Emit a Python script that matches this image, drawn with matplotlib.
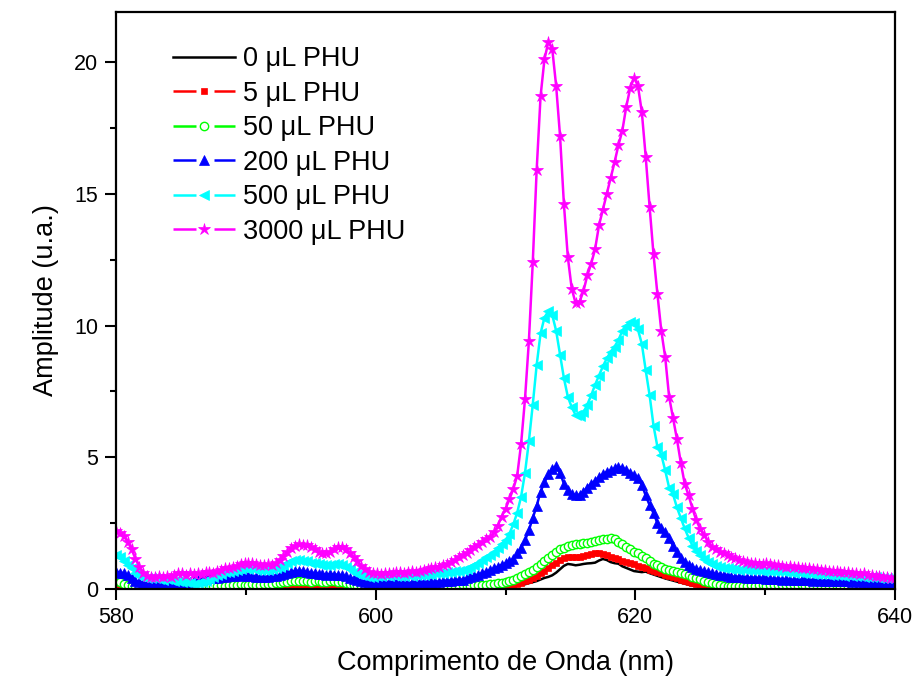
import numpy as np
import matplotlib
matplotlib.use("Agg")
import matplotlib.pyplot as plt
from matplotlib.lines import Line2D
from matplotlib.ticker import MultipleLocator

plt.rcParams['font.family'] = ['Liberation Sans', 'DejaVu Sans']

# Emission spectra sampled every 0.3 nm from 580 nm to 640 nm
wavelength_start = 580.0
wavelength_step = 0.3

labels = ["0 μL PHU", "5 μL PHU", "50 μL PHU",
          "200 μL PHU", "500 μL PHU", "3000 μL PHU"]

pl_0 = [
    0.05, 0.04, 0.03, 0.02, 0.02, 0.01, 0.02, 0.01, 0.02, 0.01,
    0.02, 0.01, 0.02, 0.01, 0.02, 0.03, 0.02, 0.01, 0.02, 0.02,
    0.03, 0.02, 0.03, 0.02, 0.03, 0.04, 0.03, 0.02, 0.03, 0.04,
    0.03, 0.04, 0.03, 0.04, 0.05, 0.04, 0.03, 0.04, 0.03, 0.04,
    0.04, 0.05, 0.04, 0.05, 0.06, 0.05, 0.06, 0.07, 0.06, 0.05,
    0.06, 0.07, 0.06, 0.05, 0.06, 0.05, 0.06, 0.05, 0.04, 0.05,
    0.04, 0.03, 0.04, 0.03, 0.02, 0.03, 0.02, 0.03, 0.02, 0.03,
    0.02, 0.03, 0.02, 0.03, 0.02, 0.03, 0.04, 0.03, 0.04, 0.03,
    0.04, 0.03, 0.04, 0.05, 0.04, 0.05, 0.04, 0.05, 0.06, 0.05,
    0.05, 0.06, 0.05, 0.06, 0.07, 0.06, 0.07, 0.08, 0.07, 0.08,
    0.06, 0.08, 0.10, 0.12, 0.15, 0.18, 0.22, 0.26, 0.30, 0.36,
    0.42, 0.46, 0.52, 0.62, 0.75, 0.88, 0.95, 0.93, 0.90, 0.92,
    0.95, 0.97, 0.98, 1.00, 1.08, 1.14, 1.10, 1.02, 0.98, 0.96,
    0.86, 0.80, 0.74, 0.68, 0.66, 0.64, 0.66, 0.60, 0.55, 0.50,
    0.45, 0.40, 0.36, 0.32, 0.28, 0.24, 0.20, 0.16, 0.13, 0.11,
    0.09, 0.08, 0.07, 0.06, 0.05, 0.05, 0.04, 0.05, 0.04, 0.03,
    0.04, 0.03, 0.04, 0.03, 0.04, 0.03, 0.02, 0.03, 0.04, 0.03,
    0.03, 0.04, 0.03, 0.02, 0.03, 0.04, 0.03, 0.04, 0.03, 0.02,
    0.03, 0.02, 0.03, 0.04, 0.03, 0.02, 0.03, 0.04, 0.03, 0.04,
    0.03, 0.04, 0.05, 0.04, 0.03, 0.04, 0.05, 0.04, 0.05, 0.04,
    0.04]

pl_5 = [
    0.10, 0.08, 0.06, 0.05, 0.04, 0.03, 0.04, 0.03, 0.02, 0.03,
    0.02, 0.03, 0.02, 0.03, 0.02, 0.03, 0.04, 0.03, 0.02, 0.03,
    0.03, 0.04, 0.03, 0.04, 0.05, 0.04, 0.05, 0.04, 0.05, 0.06,
    0.05, 0.06, 0.05, 0.06, 0.05, 0.06, 0.07, 0.06, 0.05, 0.06,
    0.06, 0.07, 0.06, 0.07, 0.08, 0.07, 0.08, 0.09, 0.08, 0.10,
    0.09, 0.10, 0.12, 0.10, 0.09, 0.08, 0.09, 0.10, 0.08, 0.07,
    0.06, 0.05, 0.04, 0.05, 0.04, 0.03, 0.04, 0.03, 0.04, 0.03,
    0.04, 0.03, 0.04, 0.03, 0.04, 0.05, 0.04, 0.05, 0.04, 0.05,
    0.05, 0.06, 0.05, 0.06, 0.07, 0.06, 0.07, 0.08, 0.07, 0.08,
    0.08, 0.09, 0.10, 0.09, 0.10, 0.11, 0.10, 0.12, 0.13, 0.14,
    0.12, 0.14, 0.16, 0.20, 0.24, 0.30, 0.36, 0.42, 0.50, 0.60,
    0.70, 0.80, 0.90, 1.00, 1.10, 1.18, 1.20, 1.22, 1.20, 1.22,
    1.25, 1.28, 1.32, 1.35, 1.36, 1.32, 1.28, 1.22, 1.18, 1.15,
    1.08, 1.02, 0.98, 0.93, 0.88, 0.84, 0.80, 0.74, 0.68, 0.64,
    0.60, 0.55, 0.50, 0.45, 0.40, 0.34, 0.30, 0.26, 0.22, 0.20,
    0.16, 0.13, 0.11, 0.10, 0.08, 0.07, 0.06, 0.06, 0.05, 0.06,
    0.05, 0.06, 0.05, 0.04, 0.05, 0.06, 0.05, 0.04, 0.05, 0.04,
    0.05, 0.04, 0.05, 0.06, 0.05, 0.04, 0.05, 0.06, 0.05, 0.04,
    0.05, 0.06, 0.05, 0.04, 0.05, 0.04, 0.05, 0.06, 0.05, 0.04,
    0.05, 0.06, 0.07, 0.06, 0.05, 0.06, 0.07, 0.08, 0.07, 0.08,
    0.08]

pl_50 = [
    0.30, 0.26, 0.20, 0.15, 0.12, 0.10, 0.08, 0.08, 0.07, 0.08,
    0.07, 0.08, 0.07, 0.06, 0.08, 0.07, 0.06, 0.07, 0.08, 0.07,
    0.08, 0.10, 0.09, 0.10, 0.12, 0.11, 0.12, 0.14, 0.13, 0.15,
    0.16, 0.15, 0.18, 0.17, 0.16, 0.18, 0.17, 0.16, 0.18, 0.19,
    0.20, 0.22, 0.24, 0.26, 0.28, 0.30, 0.32, 0.30, 0.31, 0.30,
    0.28, 0.30, 0.29, 0.27, 0.28, 0.29, 0.30, 0.28, 0.26, 0.24,
    0.20, 0.16, 0.12, 0.10, 0.09, 0.08, 0.08, 0.07, 0.08, 0.07,
    0.08, 0.07, 0.06, 0.07, 0.08, 0.07, 0.08, 0.07, 0.08, 0.09,
    0.08, 0.09, 0.08, 0.10, 0.09, 0.10, 0.11, 0.12, 0.13, 0.14,
    0.12, 0.13, 0.14, 0.15, 0.16, 0.17, 0.18, 0.20, 0.22, 0.24,
    0.26, 0.30, 0.34, 0.40, 0.48, 0.56, 0.64, 0.72, 0.82, 0.95,
    1.08, 1.18, 1.30, 1.42, 1.50, 1.56, 1.62, 1.66, 1.70, 1.72,
    1.74, 1.76, 1.80, 1.84, 1.86, 1.88, 1.90, 1.92, 1.88, 1.80,
    1.70, 1.60, 1.50, 1.42, 1.35, 1.25, 1.16, 1.06, 0.96, 0.90,
    0.82, 0.77, 0.72, 0.68, 0.64, 0.60, 0.56, 0.52, 0.46, 0.42,
    0.38, 0.32, 0.27, 0.22, 0.18, 0.14, 0.12, 0.11, 0.10, 0.11,
    0.12, 0.13, 0.12, 0.14, 0.13, 0.15, 0.14, 0.13, 0.15, 0.14,
    0.15, 0.14, 0.16, 0.15, 0.14, 0.13, 0.14, 0.12, 0.13, 0.12,
    0.12, 0.11, 0.12, 0.10, 0.11, 0.10, 0.09, 0.10, 0.09, 0.10,
    0.09, 0.10, 0.09, 0.10, 0.11, 0.10, 0.12, 0.11, 0.12, 0.13,
    0.12]

pl_200 = [
    0.66, 0.62, 0.60, 0.52, 0.40, 0.32, 0.26, 0.22, 0.20, 0.22,
    0.20, 0.22, 0.20, 0.23, 0.21, 0.22, 0.24, 0.22, 0.25, 0.28,
    0.30, 0.33, 0.35, 0.38, 0.40, 0.42, 0.43, 0.45, 0.47, 0.48,
    0.50, 0.52, 0.50, 0.53, 0.50, 0.48, 0.47, 0.45, 0.44, 0.46,
    0.48, 0.50, 0.53, 0.57, 0.62, 0.66, 0.68, 0.70, 0.68, 0.65,
    0.62, 0.60, 0.58, 0.56, 0.55, 0.56, 0.55, 0.54, 0.52, 0.48,
    0.42, 0.38, 0.34, 0.30, 0.28, 0.27, 0.26, 0.25, 0.26, 0.25,
    0.24, 0.25, 0.23, 0.24, 0.25, 0.23, 0.24, 0.25, 0.26, 0.25,
    0.26, 0.27, 0.28, 0.28, 0.30, 0.31, 0.32, 0.33, 0.34, 0.36,
    0.40, 0.45, 0.50, 0.55, 0.60, 0.66, 0.72, 0.78, 0.84, 0.92,
    0.98, 1.05, 1.15, 1.35, 1.55, 1.85, 2.23, 2.70, 3.15, 3.70,
    4.05, 4.35, 4.55, 4.65, 4.40, 4.00, 3.75, 3.62, 3.56, 3.58,
    3.70, 3.85, 4.00, 4.10, 4.25, 4.35, 4.45, 4.50, 4.58, 4.63,
    4.60, 4.52, 4.42, 4.33, 4.22, 3.95, 3.55, 3.18, 2.88, 2.50,
    2.30, 2.18, 1.92, 1.65, 1.40, 1.18, 1.02, 0.92, 0.83, 0.77,
    0.72, 0.68, 0.64, 0.60, 0.57, 0.54, 0.52, 0.50, 0.47, 0.46,
    0.45, 0.44, 0.43, 0.42, 0.42, 0.40, 0.41, 0.39, 0.38, 0.39,
    0.37, 0.36, 0.37, 0.35, 0.34, 0.35, 0.34, 0.33, 0.34, 0.32,
    0.33, 0.32, 0.31, 0.32, 0.30, 0.31, 0.30, 0.29, 0.30, 0.28,
    0.29, 0.27, 0.28, 0.26, 0.25, 0.26, 0.24, 0.23, 0.22, 0.22,
    0.20]

pl_500 = [
    1.30, 1.22, 1.08, 0.92, 0.78, 0.60, 0.50, 0.45, 0.42, 0.40,
    0.40, 0.38, 0.36, 0.37, 0.34, 0.32, 0.30, 0.28, 0.25, 0.22,
    0.20, 0.22, 0.25, 0.30, 0.38, 0.45, 0.52, 0.58, 0.64, 0.66,
    0.70, 0.72, 0.75, 0.78, 0.76, 0.78, 0.74, 0.72, 0.72, 0.73,
    0.75, 0.78, 0.85, 0.92, 1.00, 1.05, 1.10, 1.10, 1.08, 1.05,
    1.00, 0.97, 0.95, 0.92, 0.90, 0.92, 0.95, 0.93, 0.90, 0.85,
    0.75, 0.66, 0.58, 0.52, 0.48, 0.47, 0.47, 0.48, 0.50, 0.52,
    0.50, 0.53, 0.50, 0.48, 0.50, 0.52, 0.50, 0.53, 0.55, 0.54,
    0.56, 0.58, 0.60, 0.60, 0.62, 0.64, 0.66, 0.68, 0.70, 0.72,
    0.75, 0.82, 0.90, 1.00, 1.10, 1.20, 1.28, 1.40, 1.55, 1.72,
    1.85, 2.10, 2.45, 2.90, 3.50, 4.40, 5.60, 7.00, 8.50, 9.70,
    10.30, 10.55, 10.40, 9.80, 8.90, 8.00, 7.30, 6.90, 6.60, 6.55,
    6.70, 7.00, 7.35, 7.75, 8.10, 8.45, 8.75, 9.00, 9.20, 9.45,
    9.80, 10.00, 10.12, 10.08, 9.85, 9.30, 8.30, 7.35, 6.20, 5.40,
    5.10, 4.50, 3.85, 3.60, 3.10, 2.70, 2.30, 1.95, 1.65, 1.45,
    1.30, 1.15, 1.02, 0.93, 0.88, 0.84, 0.80, 0.78, 0.76, 0.75,
    0.74, 0.75, 0.73, 0.72, 0.74, 0.72, 0.70, 0.72, 0.70, 0.68,
    0.67, 0.68, 0.65, 0.64, 0.62, 0.63, 0.60, 0.62, 0.60, 0.58,
    0.57, 0.58, 0.56, 0.55, 0.53, 0.54, 0.52, 0.50, 0.52, 0.50,
    0.48, 0.50, 0.47, 0.46, 0.45, 0.44, 0.43, 0.42, 0.41, 0.40,
    0.38]

pl_3000 = [
    2.20, 2.12, 2.00, 1.80, 1.50, 1.15, 0.85, 0.62, 0.50, 0.46,
    0.44, 0.48, 0.45, 0.50, 0.47, 0.52, 0.60, 0.62, 0.55, 0.60,
    0.58, 0.62, 0.58, 0.63, 0.65, 0.62, 0.70, 0.72, 0.78, 0.80,
    0.85, 0.88, 0.95, 1.00, 0.98, 1.00, 0.95, 0.92, 0.90, 0.93,
    0.92, 0.98, 1.10, 1.25, 1.40, 1.55, 1.65, 1.70, 1.68, 1.66,
    1.60, 1.50, 1.40, 1.35, 1.38, 1.42, 1.52, 1.58, 1.60, 1.50,
    1.35, 1.20, 1.05, 0.88, 0.75, 0.66, 0.62, 0.60, 0.58, 0.60,
    0.62, 0.60, 0.63, 0.64, 0.62, 0.66, 0.68, 0.66, 0.70, 0.74,
    0.76, 0.80, 0.82, 0.85, 0.90, 0.95, 1.02, 1.10, 1.20, 1.28,
    1.35, 1.48, 1.58, 1.68, 1.78, 1.88, 1.97, 2.15, 2.40, 2.75,
    3.05, 3.40, 3.80, 4.30, 5.50, 7.20, 9.40, 12.40, 15.90, 18.70,
    20.10, 20.77, 20.50, 19.10, 17.20, 14.60, 12.60, 11.40, 10.85, 10.90,
    11.30, 11.90, 12.35, 12.90, 13.80, 14.40, 15.00, 15.60, 16.20, 16.85,
    17.40, 18.30, 19.00, 19.40, 19.10, 18.10, 16.40, 14.50, 12.70, 11.20,
    9.80, 8.80, 7.30, 6.50, 5.70, 4.80, 4.00, 3.55, 3.05, 2.60,
    2.28, 2.05, 1.79, 1.60, 1.50, 1.42, 1.35, 1.29, 1.22, 1.17,
    1.10, 1.06, 1.03, 1.00, 0.98, 0.96, 0.95, 0.97, 0.93, 0.90,
    0.90, 0.88, 0.85, 0.87, 0.83, 0.84, 0.80, 0.78, 0.80, 0.76,
    0.75, 0.73, 0.74, 0.70, 0.68, 0.70, 0.66, 0.64, 0.66, 0.62,
    0.60, 0.58, 0.60, 0.55, 0.52, 0.50, 0.48, 0.45, 0.44, 0.42,
    0.40]

wavelength = wavelength_start + wavelength_step * np.arange(len(pl_0))

series = [pl_0, pl_5, pl_50, pl_200, pl_500, pl_3000]
colors = ['#000000', '#FF0000', '#00FF00', '#0000FF', '#00FFFF', '#FF00FF']
markers = [None, 's', 'o', '^', '<', '*']
marker_sizes = [0, 5, 6, 7, 7, 9]
face_colors = ['#000000', '#FF0000', 'white', '#0000FF', '#00FFFF', '#FF00FF']
LW = 1.8

fig = plt.figure(figsize=(9.18, 6.79), dpi=100)
ax = fig.add_axes([116 / 918, 1 - 589 / 679, (895 - 116) / 918, (589 - 12) / 679])

handles = []
for y, c, m, ms, fc in zip(series, colors, markers, marker_sizes, face_colors):
    mew = 1.0 if m == 'o' else 0.5
    ax.plot(wavelength, y, color=c, lw=LW, marker=m, ms=ms,
            mfc=fc, mec=c, mew=mew)
    if m is None:
        handles.append(Line2D([], [], color=c, lw=LW))
    else:
        handles.append(Line2D([], [], color=c, lw=LW, linestyle=(0, (9.2, 7.2)),
                              marker=m, ms=ms, mfc=fc, mec=c, mew=mew))

ax.set_xlim(580, 640)
ax.set_ylim(0, 21.9)
ax.xaxis.set_major_locator(MultipleLocator(20))
ax.xaxis.set_minor_locator(MultipleLocator(10))
ax.yaxis.set_major_locator(MultipleLocator(5))
ax.yaxis.set_minor_locator(MultipleLocator(2.5))
ax.tick_params(which='major', direction='out', length=8, width=1.5,
               labelsize=15.5, pad=5, top=False, right=False)
ax.tick_params(which='minor', direction='out', length=4.5, width=1.5,
               top=False, right=False)
for s in ax.spines.values():
    s.set_linewidth(1.6)

ax.set_xlabel("Comprimento de Onda (nm)", fontsize=19.5, labelpad=16)
ax.set_ylabel("Amplitude (u.a.)", fontsize=19.5, labelpad=11)

leg = ax.legend(handles, labels, loc='upper left',
                bbox_to_anchor=(173 / 918, 1 - 46 / 679),
                bbox_transform=fig.transFigure, frameon=False,
                fontsize=19.5, handlelength=2.29, handletextpad=0.3,
                labelspacing=0.315, borderpad=0, borderaxespad=0, numpoints=1)

fig.savefig("out.png", dpi=100)
